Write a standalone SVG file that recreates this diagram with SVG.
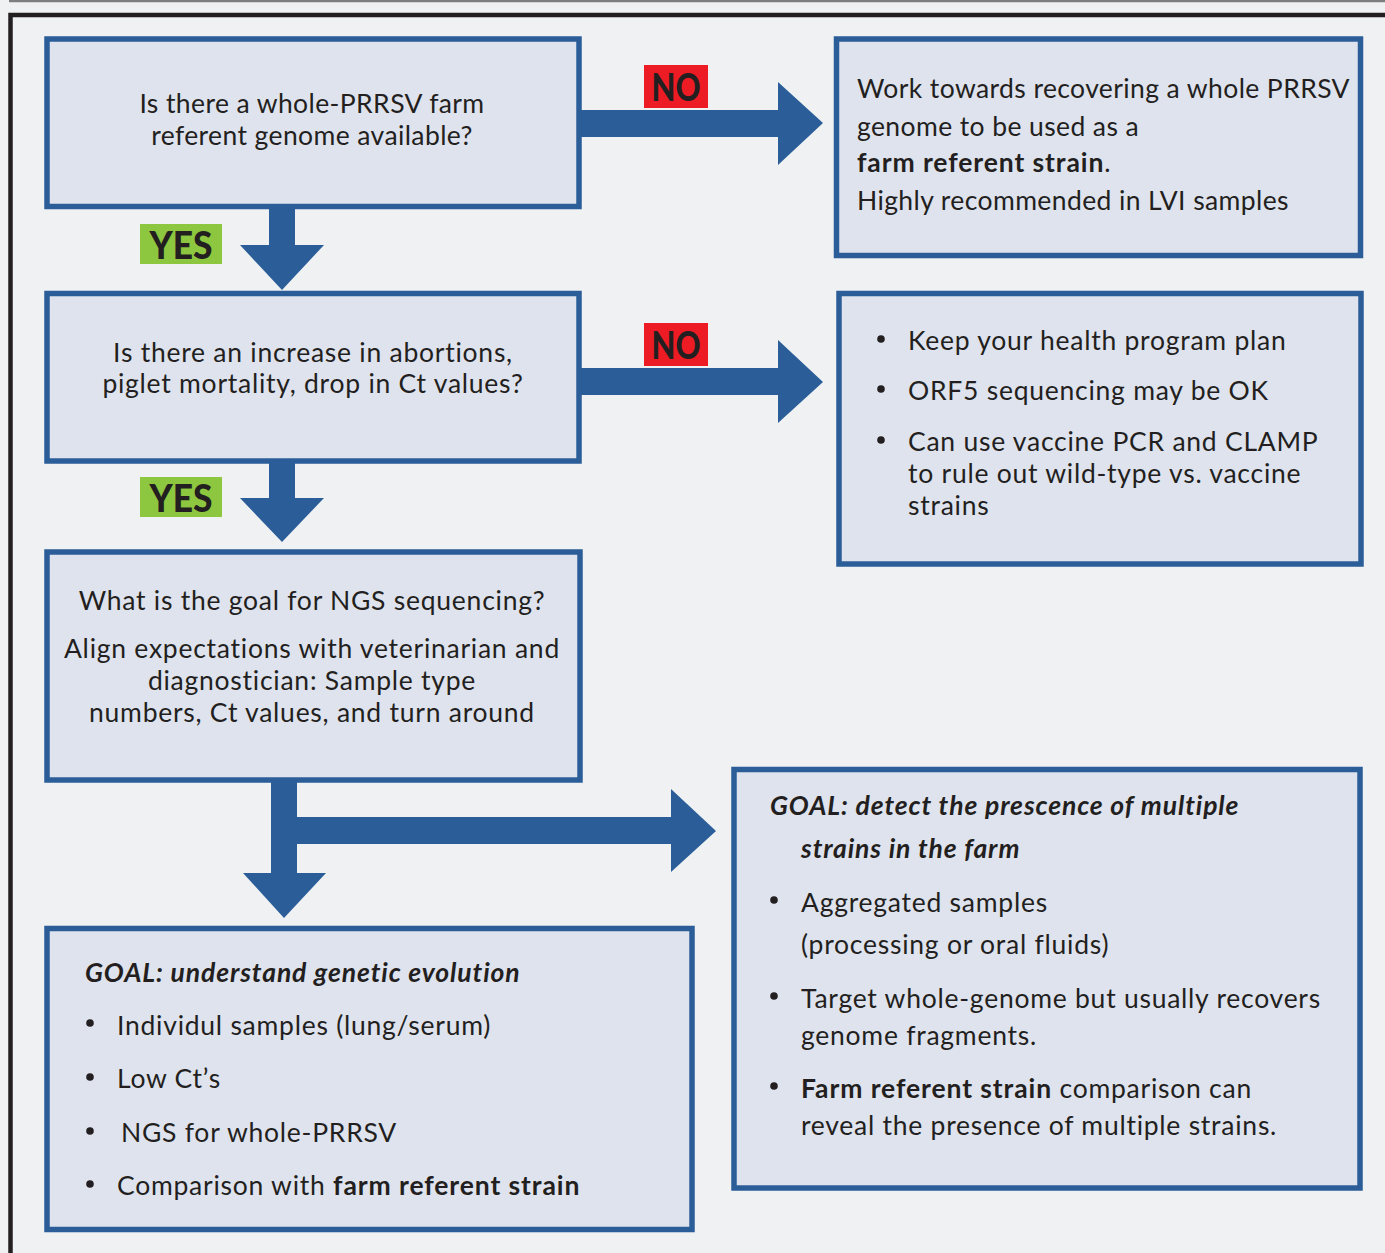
<svg xmlns="http://www.w3.org/2000/svg" width="1385" height="1253" viewBox="0 0 1385 1253">
<style>
.box{fill:#dfe3ee;stroke:#2b5e99;stroke-width:5.5}
.arrow{fill:#2b5e99}
.t{font-family:Lato,"Open Sans","Liberation Sans",sans-serif;font-size:26.5px;letter-spacing:0.75px;fill:#231f20}
.narrow{letter-spacing:0.4px}
.c{text-anchor:middle}
.b{font-weight:bold;letter-spacing:0.9px}
.bi{font-weight:bold;font-style:italic;letter-spacing:0.9px}
.lbl{font-family:Lato,"Liberation Sans",sans-serif;font-weight:900;font-size:38px;fill:#231f20}
.dot{fill:#231f20}
</style>
<rect width="1385" height="1253" fill="#eff1f3"/>
<line x1="9" y1="1" x2="1385" y2="1" stroke="#7f7f7f" stroke-width="2.5"/>
<path d="M10.5,1253 V15 H1385" fill="none" stroke="#231f20" stroke-width="4.5"/>

<g id="connectors">
<polygon class="arrow" points="269,206 295,206 295,245 324,245 282,290 240,245 269,245"/>
<polygon class="arrow" points="269,461 295,461 295,498 324,498 282,542 240,498 269,498"/>
<polygon class="arrow" points="271,780 297,780 297,817 671,817 671,789 716,831 671,872 671,844 297,844 297,873 326,873 284,918 243,873 271,873"/>
<polygon class="arrow" points="579,110 778,110 778,82 823,123 778,165 778,137 579,137"/>
<polygon class="arrow" points="579,368 778,368 778,340 823,382 778,423 778,395 579,395"/>
<g id="label-yes1"><rect x="140" y="224" width="82" height="40" fill="#8dc63f"/><text class="lbl" x="181" y="259" text-anchor="middle" textLength="63" lengthAdjust="spacingAndGlyphs">YES</text></g>
<g id="label-yes2"><rect x="140" y="477" width="82" height="40" fill="#8dc63f"/><text class="lbl" x="181" y="512" text-anchor="middle" textLength="63" lengthAdjust="spacingAndGlyphs">YES</text></g>
<g id="label-no1"><rect x="644" y="65" width="64" height="43" fill="#ed1c24"/><text class="lbl" x="676" y="101" text-anchor="middle" textLength="49" lengthAdjust="spacingAndGlyphs">NO</text></g>
<g id="label-no2"><rect x="644" y="323" width="64" height="43" fill="#ed1c24"/><text class="lbl" x="676" y="359" text-anchor="middle" textLength="49" lengthAdjust="spacingAndGlyphs">NO</text></g>
</g>

<g id="q1">
<rect class="box" x="47" y="39" width="532" height="167.5"/>
<text class="t c narrow" x="312" y="113">Is there a whole-PRRSV farm</text>
<text class="t c narrow" x="312" y="145">referent genome available?</text>
</g>

<g id="q2">
<rect class="box" x="47" y="293.5" width="532" height="167.5"/>
<text class="t c" x="313" y="362">Is there an increase in abortions,</text>
<text class="t c" x="313" y="393">piglet mortality, drop in Ct values?</text>
</g>

<g id="q3">
<rect class="box" x="47" y="552" width="533" height="228"/>
<text class="t c" x="312" y="610">What is the goal for NGS sequencing?</text>
<text class="t c" x="312" y="658">Align expectations with veterinarian and</text>
<text class="t c" x="312" y="690">diagnostician: Sample type</text>
<text class="t c" x="312" y="722">numbers, Ct values, and turn around</text>
</g>

<g id="no1-result">
<rect class="box" x="836.5" y="39" width="524" height="216.5"/>
<text class="t narrow" x="857" y="98">Work towards recovering a whole PRRSV</text>
<text class="t narrow" x="857" y="136">genome to be used as a</text>
<text class="t narrow" x="857" y="172"><tspan class="b">farm referent strain</tspan>.</text>
<text class="t narrow" x="857" y="210">Highly recommended in LVI samples</text>
</g>

<g id="no2-result">
<rect class="box" x="839" y="293.5" width="522" height="270.5"/>
<circle class="dot" cx="881" cy="339" r="3.8"/>
<text class="t" x="908" y="350">Keep your health program plan</text>
<circle class="dot" cx="881" cy="389" r="3.8"/>
<text class="t" x="908" y="400">ORF5 sequencing may be OK</text>
<circle class="dot" cx="881" cy="440" r="3.8"/>
<text class="t" x="908" y="451">Can use vaccine PCR and CLAMP</text>
<text class="t" x="908" y="483">to rule out wild-type vs. vaccine</text>
<text class="t" x="908" y="515">strains</text>
</g>

<g id="goal-multiple">
<rect class="box" x="734" y="769.5" width="626" height="418.5"/>
<text class="t bi" x="770" y="815">GOAL: detect the prescence of multiple</text>
<text class="t bi" x="801" y="858">strains in the farm</text>
<circle class="dot" cx="774" cy="900" r="3.8"/>
<text class="t" x="801" y="912">Aggregated samples</text>
<text class="t" x="801" y="954">(processing or oral fluids)</text>
<circle class="dot" cx="774" cy="996" r="3.8"/>
<text class="t" x="801" y="1008">Target whole-genome but usually recovers</text>
<text class="t" x="801" y="1045">genome fragments.</text>
<circle class="dot" cx="774" cy="1086" r="3.8"/>
<text class="t" x="801" y="1098"><tspan class="b">Farm referent strain</tspan> comparison can</text>
<text class="t" x="801" y="1135">reveal the presence of multiple strains.</text>
</g>

<g id="goal-evolution">
<rect class="box" x="47" y="928.5" width="645" height="301"/>
<text class="t bi" x="85" y="982">GOAL: understand genetic evolution</text>
<circle class="dot" cx="90" cy="1023" r="3.8"/>
<text class="t" x="117" y="1035">Individul samples (lung/serum)</text>
<circle class="dot" cx="90" cy="1077" r="3.8"/>
<text class="t" x="117" y="1088">Low Ct’s</text>
<circle class="dot" cx="90" cy="1131" r="3.8"/>
<text class="t" x="121" y="1142">NGS for whole-PRRSV</text>
<circle class="dot" cx="90" cy="1184" r="3.8"/>
<text class="t" x="117" y="1195">Comparison with <tspan class="b">farm referent strain</tspan></text>
</g>
</svg>
